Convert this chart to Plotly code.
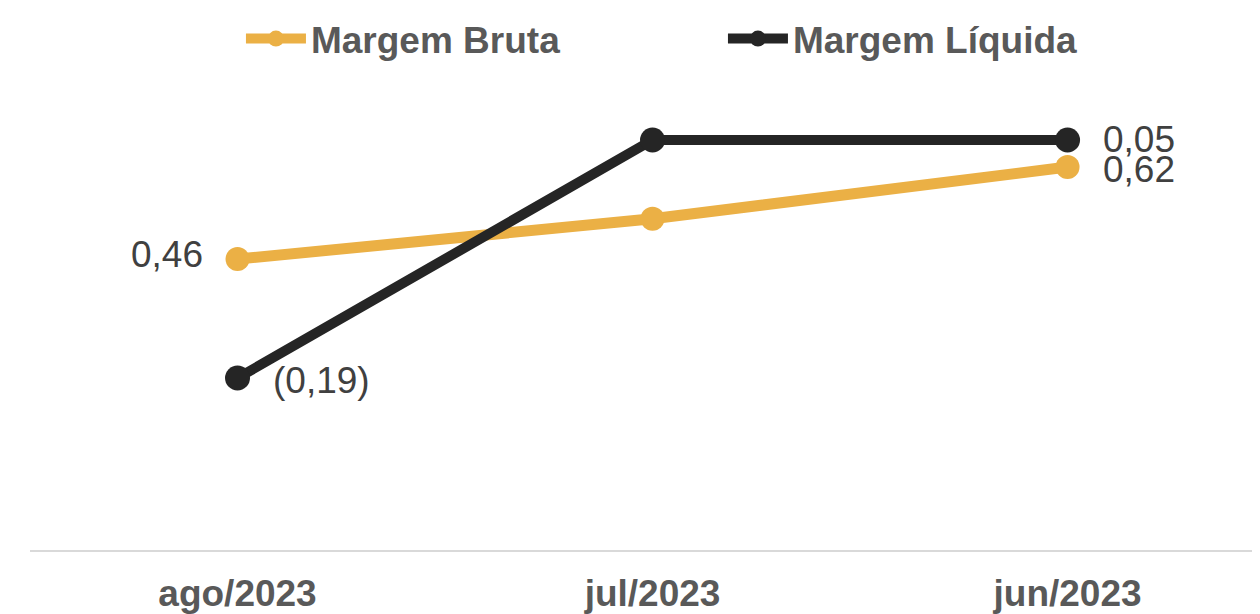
import plotly.graph_objects as go

categories = ["ago/2023", "jul/2023", "jun/2023"]
margem_bruta = [0.46, 0.53, 0.62]
margem_liquida = [-0.19, 0.05, 0.05]
label_points = [0, 2]  # indices that carry a data label


def fmt(v):
    s = f"{abs(v):.2f}".replace(".", ",")
    return f"({s})" if v < 0 else s


ORANGE = "#EBB045"
BLACK = "#252525"
FONT = "Liberation Sans, Arial, sans-serif"

fig = go.Figure()
fig.add_trace(go.Scatter(
    x=categories, y=margem_bruta, name="Margem Bruta",
    mode="lines+markers",
    line=dict(color=ORANGE, width=11),
    marker=dict(color=ORANGE, size=24),
    yaxis="y", cliponaxis=False,
))
fig.add_trace(go.Scatter(
    x=categories, y=margem_liquida, name="Margem Líquida",
    mode="lines+markers",
    line=dict(color=BLACK, width=10),
    marker=dict(color=BLACK, size=25),
    yaxis="y2", cliponaxis=False,
))

# data labels (first and last point of each series)
label_font = dict(family=FONT, size=37, color="#404040")
bruta_side = {0: ("right", -33, 5), 2: ("left", 33, -2)}
liq_side = {0: ("left", 33, -2), 2: ("left", 33, 0)}
for i in label_points:
    anchor, dx, dy = bruta_side[i]
    fig.add_annotation(x=categories[i], y=margem_bruta[i], xref="x", yref="y",
                       text=fmt(margem_bruta[i]), showarrow=False,
                       xanchor=anchor, yanchor="middle", xshift=dx, yshift=dy,
                       font=label_font)
    anchor, dx, dy = liq_side[i]
    fig.add_annotation(x=categories[i], y=margem_liquida[i], xref="x", yref="y2",
                       text=fmt(margem_liquida[i]), showarrow=False,
                       xanchor=anchor, yanchor="middle", xshift=dx, yshift=dy,
                       font=label_font)

fig.update_layout(
    width=1260, height=614,
    margin=dict(l=22, r=0, t=82, b=72),
    paper_bgcolor="white", plot_bgcolor="white",
    font=dict(family=FONT),
    showlegend=True,
    legend=dict(
        orientation="h", x=0.1704, xanchor="left", y=1.0, yanchor="top",
        yref="container",
        font=dict(family=FONT, size=37, color="#595959", weight="bold"),
        entrywidth=407, itemwidth=60, bgcolor="rgba(0,0,0,0)",
    ),
    xaxis=dict(
        type="category", range=[-0.5, 2.483],
        showline=True, linecolor="#D9D9D9", linewidth=2,
        showgrid=False, zeroline=False,
        ticks="outside", ticklen=10, tickcolor="rgba(0,0,0,0)",
        tickfont=dict(family=FONT, size=37, color="#595959", weight="bold"),
    ),
    yaxis=dict(range=[-0.046, 0.754], visible=False, showgrid=False, zeroline=False),
    yaxis2=dict(range=[-0.3634, 0.1004], visible=False, showgrid=False,
                zeroline=False, overlaying="y", side="right"),
)

fig.write_html("out.html")
